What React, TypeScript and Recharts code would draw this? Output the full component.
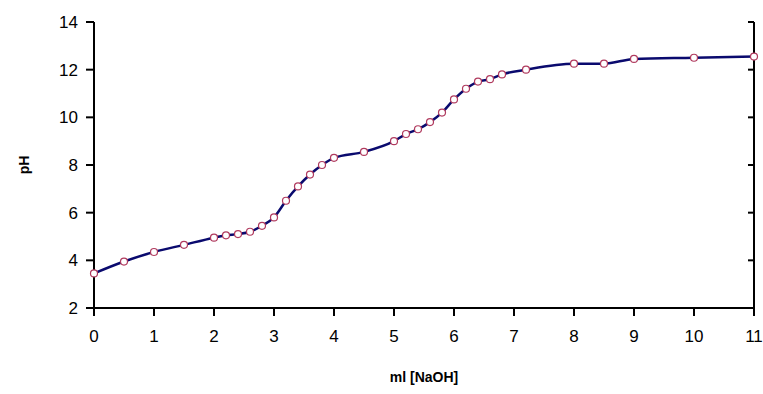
import React from "react";
import { LineChart, Line, XAxis, YAxis } from "recharts";

const volumes = [0, 0.5, 1, 1.5, 2, 2.2, 2.4, 2.6, 2.8, 3, 3.2, 3.4, 3.6, 3.8, 4, 4.5, 5, 5.2, 5.4, 5.6, 5.8, 6, 6.2, 6.4, 6.6, 6.8, 7.2, 8, 8.5, 9, 10, 11];
const phValues = [3.45, 3.95, 4.35, 4.65, 4.95, 5.05, 5.1, 5.2, 5.45, 5.8, 6.5, 7.1, 7.6, 8.0, 8.3, 8.55, 9.0, 9.3, 9.5, 9.8, 10.2, 10.75, 11.2, 11.5, 11.6, 11.8, 12.0, 12.25, 12.25, 12.45, 12.5, 12.55];
const xTicks = [0, 1, 2, 3, 4, 5, 6, 7, 8, 9, 10, 11];
const yTicks = [2, 4, 6, 8, 10, 12, 14];

const data = volumes.map((v, i) => ({ ml: v, ph: phValues[i] }));

const fontFamily = "Liberation Sans, Arial, sans-serif";
const tickStyle = { fontSize: 17, fill: "#000", fontFamily };
const EmptyTick = () => <g />;

export default function App() {
  return (
    <div style={{ width: 763, height: 394 }}>
      <style>{`body{margin:0}`}</style>
      <LineChart width={763} height={394} data={data} margin={{ top: 22, right: 9, bottom: 0, left: 34 }}>
        <XAxis
          dataKey="ml"
          type="number"
          domain={[0, 11]}
          ticks={xTicks}
          interval={0}
          stroke="#000"
          strokeWidth={2}
          tickSize={8}
          tickMargin={14}
          tick={tickStyle}
          height={86}
          label={{ value: "ml [NaOH]", position: "insideBottom", offset: 12, style: { fontSize: 14, fontWeight: "bold", fill: "#000", fontFamily } }}
        />
        <XAxis
          xAxisId="top"
          dataKey="ml"
          type="number"
          domain={[0, 11]}
          orientation="top"
          height={0}
          tick={EmptyTick}
          tickLine={false}
          stroke="#000"
          strokeWidth={2}
        />
        <YAxis
          type="number"
          domain={[2, 14]}
          ticks={yTicks}
          interval={0}
          width={60}
          stroke="#000"
          strokeWidth={2}
          tickSize={8}
          tickMargin={8}
          tick={tickStyle}
          label={{ value: "pH", angle: -90, position: "insideLeft", offset: -10, style: { fontSize: 14, fontWeight: "bold", fill: "#000", fontFamily, textAnchor: "middle" } }}
        />
        <YAxis
          yAxisId="right"
          orientation="right"
          mirror
          type="number"
          domain={[2, 14]}
          ticks={yTicks}
          interval={0}
          width={1}
          stroke="#000"
          strokeWidth={2}
          tickSize={6}
          tick={EmptyTick}
        />
        <Line
          xAxisId="top"
          yAxisId="right"
          dataKey="ph"
          stroke="none"
          dot={false}
          activeDot={false}
          isAnimationActive={false}
        />
        <Line
          type="monotone"
          dataKey="ph"
          stroke="#0a0a6e"
          strokeWidth={2.5}
          isAnimationActive={false}
          dot={{ r: 3.5, stroke: "#b03a5e", strokeWidth: 1.2, fill: "#fff" }}
        />
      </LineChart>
    </div>
  );
}
